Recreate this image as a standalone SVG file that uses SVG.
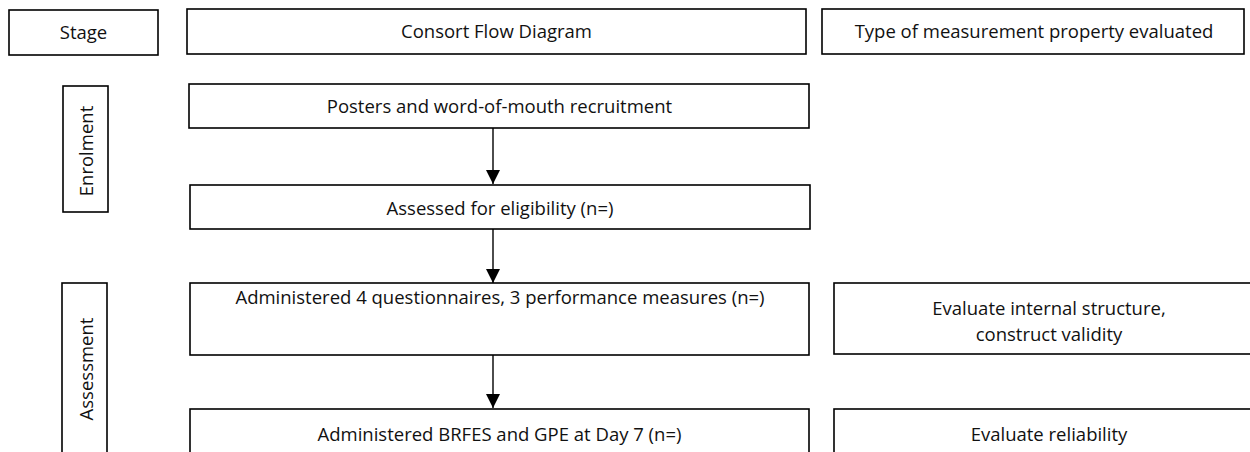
<svg xmlns="http://www.w3.org/2000/svg" width="1250" height="452" viewBox="0 0 1250 452">
<style>
.box{fill:#fff;stroke:#000;stroke-width:1.6}
.t{font-family:"Open Sans","Noto Sans",sans-serif;font-size:18.5px;fill:#111;text-anchor:middle}
.c{stroke:#000;stroke-width:1.4;fill:none}
</style>
<defs>
<marker id="ah" markerWidth="14" markerHeight="14" refX="14" refY="7" orient="auto" markerUnits="userSpaceOnUse">
<path d="M0,0 L14,7 L0,14 Z" fill="#000"/>
</marker>
</defs>
<rect width="1250" height="452" fill="#fff"/>
<g id="stage"><rect class="box" x="9" y="10" width="149" height="45"/><text class="t" x="83.5" y="39">Stage</text></g>
<g id="consort"><rect class="box" x="187" y="9" width="619" height="45"/><text class="t" x="496.5" y="38">Consort Flow Diagram</text></g>
<g id="type"><rect class="box" x="822" y="9" width="422" height="45"/><text class="t" x="1034" y="38">Type of measurement property evaluated</text></g>
<g id="enrolment"><rect class="box" x="63" y="86" width="45" height="126"/><text class="t" transform="translate(93,151) rotate(-90)">Enrolment</text></g>
<g id="assessment"><rect class="box" x="62" y="283" width="45" height="180"/><text class="t" transform="translate(93,369) rotate(-90)">Assessment</text></g>
<g id="posters"><rect class="box" x="189" y="84" width="620" height="44"/><text class="t" x="499.5" y="113">Posters and word-of-mouth recruitment</text></g>
<g id="assessed"><rect class="box" x="190" y="185" width="620" height="44"/><text class="t" x="500" y="215">Assessed for eligibility (n=)</text></g>
<g id="admin4"><rect class="box" x="190" y="283" width="619" height="72"/><text class="t" x="500" y="304">Administered 4 questionnaires, 3 performance measures (n=)</text></g>
<g id="brfes"><rect class="box" x="190" y="409" width="619" height="60"/><text class="t" x="499.5" y="441">Administered BRFES and GPE at Day 7 (n=)</text></g>
<g id="internal"><rect class="box" x="834" y="283" width="430" height="71"/><text class="t" x="1049" y="315">Evaluate internal structure,</text><text class="t" x="1049" y="341">construct validity</text></g>
<g id="reliability"><rect class="box" x="834" y="409" width="430" height="60"/><text class="t" x="1049" y="441">Evaluate reliability</text></g>
<g id="connectors">
<line class="c" x1="493" y1="128" x2="493" y2="184" marker-end="url(#ah)"/>
<line class="c" x1="493" y1="229" x2="493" y2="283" marker-end="url(#ah)"/>
<line class="c" x1="493" y1="355" x2="493" y2="408" marker-end="url(#ah)"/>
</g>
</svg>
